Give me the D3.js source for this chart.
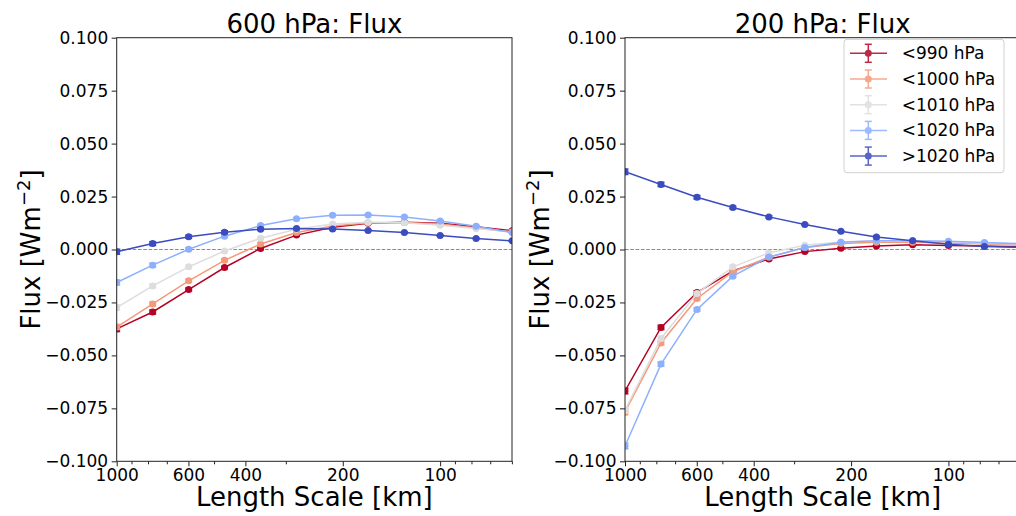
<!DOCTYPE html>
<html>
<head>
<meta charset="utf-8">
<script src="https://cdn.jsdelivr.net/npm/d3@7"></script>
<style>
  body { margin: 0; background: #fff; }
  svg, svg text { font-family: "DejaVu Sans", sans-serif; }
  .title { font-size: 26px; }
  .axlabel { font-size: 26px; }
  .legend text { font-size: 17px; }
</style>
</head>
<body>
<svg id="chart" width="1016" height="516"></svg>
<script>
// length scales [km] of the spectral bins
var lengths = [1000, 774, 599, 464, 359, 278, 215, 167, 129, 100, 77.4, 59.9];

var seriesNames = ["<990 hPa", "<1000 hPa", "<1010 hPa", "<1020 hPa", ">1020 hPa"];
var colors = ["#b40426", "#f49a7b", "#dddddd", "#8db0fe", "#3b4cc0"];

var majorTicks = [1000, 600, 400, 200, 100];
var minorTicks = [900, 800, 700, 500, 300, 90, 80, 70, 60];
var yTicks = [-0.1, -0.075, -0.05, -0.025, 0, 0.025, 0.05, 0.075, 0.1];

// 600 hPa flux
var flux600_990  = [-0.0375, -0.0295, -0.0189, -0.0085, 0.0005, 0.0068, 0.0105, 0.0124, 0.0129, 0.0124, 0.0107, 0.0088];
var flux600_1000 = [-0.0366, -0.0257, -0.0148, -0.0051, 0.0026, 0.0080, 0.0111, 0.0126, 0.0128, 0.0120, 0.0102, 0.0083];
var flux600_1010 = [-0.0274, -0.0172, -0.0082, -0.0007, 0.0053, 0.0096, 0.0120, 0.0129, 0.0126, 0.0115, 0.0099, 0.0083];
var flux600_1020 = [-0.0156, -0.0074, 0.0001, 0.0063, 0.0113, 0.0145, 0.0162, 0.0163, 0.0154, 0.0135, 0.0110, 0.0080];
var flux600_gt   = [-0.0011, 0.0028, 0.0060, 0.0082, 0.0096, 0.0099, 0.0097, 0.0090, 0.0080, 0.0066, 0.0052, 0.0041];
var err600 = [0.0012, 0.0009, 0.0007, 0.0006, 0.0005, 0.0004, 0.0004, 0.0003, 0.0003, 0.0003, 0.0002, 0.0002];

// 200 hPa flux
var flux200_990  = [-0.0668, -0.0368, -0.0203, -0.0101, -0.0045, -0.0010, 0.0006, 0.0017, 0.0022, 0.0019, 0.0016, 0.0012];
var flux200_1000 = [-0.0767, -0.0441, -0.0231, -0.0105, -0.0036, 0.0009, 0.0028, 0.0034, 0.0034, 0.0031, 0.0026, 0.0021];
var flux200_1010 = [-0.0759, -0.0420, -0.0208, -0.0082, -0.0016, 0.0020, 0.0036, 0.0041, 0.0041, 0.0037, 0.0030, 0.0025];
var flux200_1020 = [-0.0928, -0.0541, -0.0283, -0.0126, -0.0036, 0.0009, 0.0034, 0.0041, 0.0041, 0.0039, 0.0033, 0.0027];
var flux200_gt   = [0.0367, 0.0307, 0.0247, 0.0198, 0.0154, 0.0118, 0.0086, 0.0059, 0.0041, 0.0025, 0.0014, 0.0010];
var err200 = [0.0013, 0.0010, 0.0008, 0.0006, 0.0005, 0.0004, 0.0003, 0.0003, 0.0002, 0.0002, 0.0002, 0.0002];

var panels = [
  {title: "600 hPa: Flux", x0: 116.7, series: [flux600_990, flux600_1000, flux600_1010, flux600_1020, flux600_gt], err: err600, legend: false},
  {title: "200 hPa: Flux", x0: 625, series: [flux200_990, flux200_1000, flux200_1010, flux200_1020, flux200_gt], err: err200, legend: true}
];

var svg = d3.select("#chart"),
    plotTop = 37.7, plotBottom = 461.3, panelW = 395.3;

var y = d3.scaleLinear().domain([-0.1, 0.1]).range([plotBottom, plotTop]);

panels.forEach(function(p, pi) {
  var x = d3.scaleLog().domain([1000, 59.95]).range([p.x0, p.x0 + panelW]);
  var g = svg.append("g");

  g.append("clipPath").attr("id", "clip" + pi)
    .append("rect").attr("x", p.x0).attr("y", plotTop).attr("width", panelW).attr("height", plotBottom - plotTop);

  // zero line
  g.append("line")
    .attr("x1", p.x0).attr("x2", p.x0 + panelW)
    .attr("y1", y(0)).attr("y2", y(0))
    .attr("stroke", "#8c8c8c").attr("stroke-width", 1)
    .attr("stroke-dasharray", "3.7,1.6");

  var plot = g.append("g").attr("clip-path", "url(#clip" + pi + ")");
  var line = d3.line()
    .x(function(d, i) { return x(lengths[i]); })
    .y(function(d) { return y(d); });

  p.series.forEach(function(vals, si) {
    var s = plot.append("g");
    s.append("path")
      .attr("d", line(vals))
      .attr("fill", "none")
      .attr("stroke", colors[si])
      .attr("stroke-width", 1.5);
    // error bars
    var eb = s.selectAll(".eb").data(vals).enter().append("g");
    eb.append("line")
      .attr("x1", function(d, i) { return x(lengths[i]); })
      .attr("x2", function(d, i) { return x(lengths[i]); })
      .attr("y1", function(d, i) { return y(d - p.err[i]); })
      .attr("y2", function(d, i) { return y(d + p.err[i]); })
      .attr("stroke", colors[si]).attr("stroke-width", 1.5);
    [-1, 1].forEach(function(sign) {
      eb.append("line")
        .attr("x1", function(d, i) { return x(lengths[i]) - 3.5; })
        .attr("x2", function(d, i) { return x(lengths[i]) + 3.5; })
        .attr("y1", function(d, i) { return y(d + sign * p.err[i]); })
        .attr("y2", function(d, i) { return y(d + sign * p.err[i]); })
        .attr("stroke", colors[si]).attr("stroke-width", 1.5);
    });
    s.selectAll("circle").data(vals).enter().append("circle")
      .attr("cx", function(d, i) { return x(lengths[i]); })
      .attr("cy", function(d) { return y(d); })
      .attr("r", 3.5)
      .attr("fill", colors[si]);
  });

  // frame
  g.append("rect")
    .attr("x", p.x0).attr("y", plotTop)
    .attr("width", panelW).attr("height", plotBottom - plotTop)
    .attr("fill", "none").attr("stroke", "#222").attr("stroke-width", 1);

  // x axis
  var xa = g.append("g").attr("transform", "translate(0," + plotBottom + ")")
    .call(d3.axisBottom(x).tickValues(majorTicks).tickFormat(d3.format("d")).tickSize(5).tickPadding(3));
  xa.attr("font-size", 17).attr("font-family", "DejaVu Sans, sans-serif");
  xa.select(".domain").remove();
  xa.selectAll("line").attr("stroke", "#222");
  g.append("g").attr("transform", "translate(0," + plotBottom + ")")
    .call(d3.axisBottom(x).tickValues(minorTicks).tickFormat("").tickSize(3))
    .call(function(a) { a.select(".domain").remove(); a.selectAll("line").attr("stroke", "#222"); });

  // y axis
  var ya = g.append("g").attr("transform", "translate(" + p.x0 + ",0)")
    .call(d3.axisLeft(y).tickValues(yTicks).tickFormat(function(d) {
      return d3.format(".3f")(d).replace("-", "\u2212");
    }).tickSize(5).tickPadding(3.5));
  ya.attr("font-size", 17).attr("font-family", "DejaVu Sans, sans-serif");
  ya.select(".domain").remove();
  ya.selectAll("line").attr("stroke", "#222");

  g.append("text").attr("class", "title")
    .attr("x", p.x0 + panelW / 2).attr("y", 33)
    .attr("text-anchor", "middle")
    .text(p.title);

  g.append("text").attr("class", "axlabel")
    .attr("x", p.x0 + panelW / 2).attr("y", 506)
    .attr("text-anchor", "middle")
    .text("Length Scale [km]");

  var yl = g.append("text").attr("class", "axlabel")
    .attr("transform", "translate(" + (p.x0 - 76.5) + "," + y(0) + ") rotate(-90)")
    .attr("text-anchor", "middle");
  yl.append("tspan").text("Flux [Wm");
  yl.append("tspan").attr("dy", -10).style("font-size", "18px").text("\u22122");
  yl.append("tspan").attr("dy", 10).text("]");

  if (p.legend) {
    var lg = g.append("g").attr("class", "legend");
    lg.append("rect")
      .attr("x", 844).attr("y", 39.3).attr("width", 160).attr("height", 133.4)
      .attr("rx", 3).attr("fill", "#fff").attr("fill-opacity", 0.8)
      .attr("stroke", "#d0d0d0");
    seriesNames.forEach(function(name, si) {
      var ry = 53.3 + si * 25.7;
      var it = lg.append("g").attr("opacity", 0.85);
      it.append("line").attr("x1", 850).attr("x2", 887).attr("y1", ry).attr("y2", ry)
        .attr("stroke", colors[si]).attr("stroke-width", 1.5);
      it.append("line").attr("x1", 868.3).attr("x2", 868.3).attr("y1", ry - 9).attr("y2", ry + 9)
        .attr("stroke", colors[si]).attr("stroke-width", 1.5);
      [-9, 9].forEach(function(o) {
        it.append("line").attr("x1", 864.8).attr("x2", 871.8).attr("y1", ry + o).attr("y2", ry + o)
          .attr("stroke", colors[si]).attr("stroke-width", 1.5);
      });
      it.append("circle").attr("cx", 868.3).attr("cy", ry).attr("r", 3.5).attr("fill", colors[si]);
      lg.append("text").attr("x", 901.7).attr("y", ry).attr("dy", "0.35em").text(name);
    });
  }
});
</script>
</body>
</html>
